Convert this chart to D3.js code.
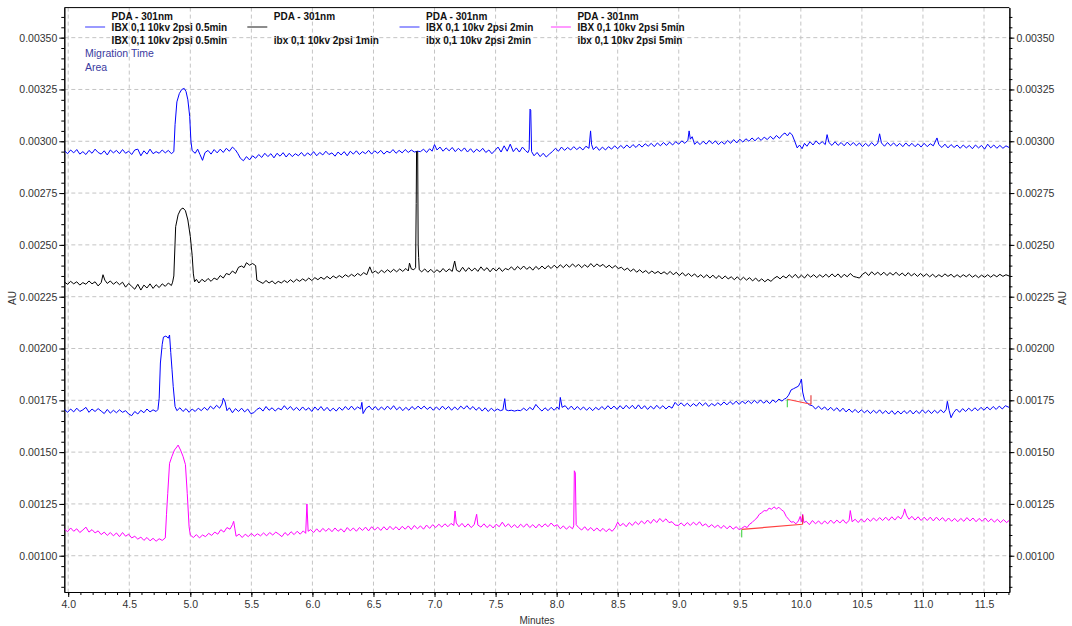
<!DOCTYPE html>
<html>
<head>
<meta charset="utf-8">
<script src="https://cdn.jsdelivr.net/npm/d3@7"></script>
<style>
body { margin: 0; background: #fff; }
svg { font-family: "Liberation Sans", Arial, sans-serif; }
.axis text { fill: #333; font-size: 10.5px; }
.axis path, .axis line { stroke: #000; }
</style>
</head>
<body>
<svg id="chart" width="1072" height="626"></svg>
<script>
// tick labels
var xTicks = [4.0, 4.5, 5.0, 5.5, 6.0, 6.5, 7.0, 7.5, 8.0, 8.5, 9.0, 9.5, 10.0, 10.5, 11.0, 11.5];
var yTicks = [0.00100, 0.00125, 0.00150, 0.00175, 0.00200, 0.00225, 0.00250, 0.00275, 0.00300, 0.00325, 0.00350];

var legendTitles = ["PDA - 301nm", "PDA - 301nm", "PDA - 301nm", "PDA - 301nm"];
var legendLine1 = ["IBX 0,1 10kv 2psi 0.5min", "", "IBX 0,1 10kv 2psi 2min", "IBX 0,1 10kv 2psi 5min"];
var legendLine2 = ["IBX 0,1 10kv 2psi 0.5min", "ibx 0,1 10kv 2psi 1min", "ibx 0,1 10kv 2psi 2min", "ibx 0,1 10kv 2psi 5min"];
var traceColors = ["#0000ff", "#000000", "#0000ff", "#ff00ff"];
var sampleColors = ["#7878ff", "#666666", "#7878ff", "#ff78ff"];

// [minutes, AU]
var trace05 = [[3.97,.002954],[3.995,.00294],[4.02,.002958],[4.045,.002944],[4.07,.00296],[4.095,.002938],[4.12,.00295],[4.145,.002936],[4.17,.002956],[4.195,.002942],[4.22,.002962],[4.245,.002946],[4.27,.002938],[4.295,.002954],[4.32,.002934],[4.345,.002958],[4.37,.002944],[4.395,.002956],[4.42,.00294],[4.445,.00296],[4.47,.002942],[4.495,.002952],[4.52,.002936],[4.545,.002958],[4.57,.002962],[4.595,.00293],[4.62,.002954],[4.645,.002938],[4.67,.002962],[4.695,.00294],[4.72,.00295],[4.745,.002942],[4.77,.002958],[4.795,.002944],[4.82,.002956],[4.845,.00294],[4.865,.00295],
  [4.875,.00308],[4.89,.00319],[4.91,.00323],[4.93,.00325],[4.95,.003255],[4.965,.00324],[4.98,.0032],[4.995,.00312],[5.005,.003],[5.015,.002955],
  [5.04,.002942],[5.06,.002962],[5.08,.002935],[5.10,.002908],[5.12,.002945],[5.145,.002956],[5.17,.002938],[5.195,.00296],[5.22,.002944],[5.245,.002962],[5.27,.002946],[5.295,.002966],[5.32,.002952],[5.345,.002972],[5.37,.002958],[5.39,.00294],[5.41,.002918],[5.435,.002906],[5.46,.002926],[5.485,.00291],[5.51,.00293],[5.535,.002918],[5.56,.002936],[5.585,.002922],[5.61,.002942],[5.635,.002926],[5.66,.00294],[5.685,.00292],[5.71,.002942],[5.735,.002928],
  [5.76,.002945],[5.785,.002924],[5.81,.002942],[5.835,.002926],[5.86,.00294],[5.885,.00293],[5.91,.002946],[5.935,.002928],[5.96,.002944],[5.985,.002932],[6.01,.00295],[6.035,.00293],[6.06,.002946],[6.085,.002934],[6.11,.002952],[6.135,.002936],[6.16,.002944],[6.185,.002928],[6.21,.002948],[6.235,.002934],[6.26,.00295],[6.285,.00293],[6.31,.002952],[6.335,.002938],[6.36,.002954],[6.385,.002936],[6.41,.00295],[6.435,.00294],[6.46,.002956],[6.485,.002938],[6.51,.002954],[6.535,.002942],[6.56,.002956],[6.585,.002938],[6.61,.002952],[6.635,.002944],[6.66,.00296],[6.685,.002942],[6.71,.002956],[6.735,.002944],[6.76,.00296],[6.785,.002946],[6.81,.002958],[6.835,.002948],[6.86,.002952],[6.885,.00295],[6.91,.002962],[6.935,.002946],[6.96,.002964],[6.98,.002952],
  [7.00,.002984],[7.02,.002958],[7.045,.002972],[7.07,.002952],[7.095,.002968],[7.12,.002954],[7.145,.00297],[7.17,.00295],[7.195,.002966],[7.22,.002952],[7.245,.002968],[7.27,.002948],[7.295,.002964],[7.32,.002946],[7.345,.002962],[7.37,.00295],[7.395,.002966],[7.42,.002946],[7.445,.002958],[7.47,.00294],[7.495,.002956],[7.52,.002972],[7.545,.002948],[7.57,.002978],[7.595,.002952],[7.62,.002986],[7.645,.00295],[7.67,.002968],[7.695,.002948],[7.72,.002972],[7.745,.002955],[7.765,.002945],
  [7.775,.00296],[7.782,.003155],[7.788,.00315],[7.795,.00295],
  [7.815,.00293],[7.84,.002946],[7.865,.002926],[7.89,.002942],[7.915,.002924],[7.94,.002938],[7.965,.00295],[7.99,.002966],[8.015,.002952],[8.04,.002972],[8.065,.002956],[8.09,.00297],[8.115,.002958],[8.14,.002974],[8.165,.00296],[8.19,.002972],[8.215,.002958],[8.24,.002976],[8.265,.002966],
  [8.278,.00305],[8.286,.002985],
  [8.30,.00296],[8.325,.002974],[8.35,.002956],[8.375,.002972],[8.40,.002958],[8.425,.002974],[8.45,.002962],[8.475,.002978],[8.50,.002964],[8.525,.00298],[8.55,.002966],[8.575,.002982],[8.60,.002968],[8.625,.002984],[8.65,.00297],[8.675,.002986],[8.70,.002972],[8.725,.002988],[8.75,.002976],[8.775,.00299],[8.80,.002974],[8.825,.002992],[8.85,.002978],[8.875,.002994],[8.90,.00298],[8.925,.002996],[8.95,.002982],[8.975,.002998],[9.00,.002986],[9.025,.003002],[9.05,.00299],
  [9.075,.003005],[9.085,.00305],[9.095,.00301],[9.11,.003022],[9.13,.002985],
  [9.15,.002998],[9.175,.002984],[9.20,.003],[9.225,.002986],[9.25,.003004],[9.275,.002988],[9.30,.003002],[9.325,.002984],[9.35,.002998],[9.375,.002986],[9.40,.003004],[9.425,.00299],[9.45,.003008],[9.475,.002992],[9.50,.00301],[9.525,.002996],[9.55,.003012],[9.575,.003],[9.60,.003016],[9.625,.003002],[9.65,.003018],[9.675,.003004],[9.70,.00302],[9.725,.003008],[9.75,.003024],[9.775,.00301],[9.80,.003028],[9.825,.003014],[9.85,.003032],[9.87,.00304],[9.89,.003026],[9.91,.003042],[9.93,.00303],[9.95,.003],[9.97,.002968],[9.99,.002982],[10.01,.002964],[10.03,.00299],[10.05,.002976],[10.075,.002998],[10.10,.002982],[10.125,.003002],[10.15,.002986],[10.175,.002998],[10.20,.002984],[10.215,.003032],[10.23,.002994],[10.255,.00298],[10.28,.002998],[10.305,.00298],[10.33,.002994],[10.355,.002978],[10.38,.002996],[10.405,.00298],[10.43,.002994],[10.455,.002978],[10.48,.002992],[10.505,.002974],[10.53,.00299],[10.555,.002976],[10.58,.002994],[10.605,.002978],[10.63,.00299],[10.645,.003036],[10.66,.002992],[10.685,.002976],[10.71,.002994],[10.735,.002978],[10.76,.002992],[10.785,.002976],[10.81,.00299],[10.835,.002974],[10.86,.002992],[10.885,.002976],[10.91,.00299],[10.935,.002974],[10.96,.002988],[10.985,.002972],[11.01,.00299],[11.035,.002974],[11.06,.002988],[11.085,.002978],[11.115,.003016],[11.13,.002984],[11.155,.00297],[11.18,.002986],[11.205,.002968],[11.23,.002984],[11.255,.00297],[11.28,.002982],[11.305,.002966],[11.33,.002982],[11.355,.002968],[11.38,.00298],[11.405,.002964],[11.43,.002982],[11.455,.002968],[11.48,.00298],[11.505,.002962],[11.53,.002986],[11.555,.002968],[11.58,.002982],[11.605,.002966],[11.63,.00298],[11.655,.002966],[11.68,.002978],[11.705,.00297]];

var trace1 = [[3.97,.00232],[3.995,.00231],[4.02,.002324],[4.045,.002312],[4.07,.002322],[4.095,.002306],[4.12,.002318],[4.145,.00231],[4.17,.002326],[4.195,.002312],[4.22,.002322],[4.245,.002302],[4.27,.002318],[4.285,.002356],[4.30,.00233],[4.32,.002314],[4.345,.002326],[4.37,.00231],[4.395,.002322],[4.42,.002308],[4.445,.00232],[4.47,.002296],[4.495,.002314],[4.52,.0023],[4.545,.002286],[4.57,.00231],[4.595,.002282],[4.62,.002306],[4.645,.002292],[4.67,.002312],[4.695,.00229],[4.72,.002308],[4.745,.002294],[4.77,.002312],[4.795,.0023],[4.82,.002316],[4.845,.002304],[4.855,.00232],
  [4.865,.00235],[4.88,.002588],[4.90,.002645],[4.92,.00267],[4.94,.002678],[4.96,.002665],[4.98,.00262],[5.00,.00254],[5.015,.00245],[5.025,.00236],[5.035,.002322],
  [5.05,.002334],[5.07,.002316],[5.095,.002334],[5.12,.002322],[5.145,.002338],[5.17,.002324],[5.195,.00234],[5.22,.002332],[5.245,.002352],[5.27,.00234],[5.295,.002362],[5.32,.002356],[5.345,.002374],[5.37,.002362],[5.395,.002392],[5.42,.002398],[5.44,.00239],[5.46,.002414],[5.485,.002402],[5.51,.00241],[5.535,.0024],[5.545,.00233],[5.57,.002322],[5.595,.002314],[5.62,.002328],[5.645,.002316],[5.67,.002326],[5.695,.002312],[5.72,.002324],
  [5.745,.002316],[5.77,.002328],[5.795,.002318],[5.82,.002332],[5.845,.00232],[5.87,.002334],[5.895,.002324],[5.92,.002336],[5.945,.002326],[5.97,.00234],[5.995,.002328],[6.02,.002342],[6.045,.002332],[6.07,.002344],[6.095,.002334],[6.12,.002348],[6.145,.002336],[6.17,.00235],[6.195,.00234],[6.22,.002352],[6.245,.002342],[6.27,.002356],[6.295,.002346],[6.32,.002358],[6.345,.002348],[6.37,.002362],[6.395,.002352],[6.42,.002366],[6.445,.002356],[6.47,.002394],[6.49,.002364],[6.515,.002374],[6.54,.002362],[6.565,.002378],[6.59,.002366],[6.615,.00238],[6.64,.002368],[6.665,.002382],[6.69,.00237],[6.715,.002384],[6.74,.002372],[6.765,.002386],[6.785,.002374],[6.795,.002412],[6.81,.002384],[6.83,.00238],
  [6.845,.00239],[6.85,.0027],[6.853,.00295],[6.862,.00295],[6.866,.0025],[6.87,.00244],[6.875,.00238],
  [6.895,.00237],[6.92,.002384],[6.945,.002368],[6.97,.002382],[6.995,.002366],[7.02,.00238],[7.045,.002368],[7.07,.002386],[7.095,.00237],[7.12,.002384],[7.145,.002372],[7.165,.002422],[7.18,.002378],[7.205,.00237],[7.23,.002392],[7.255,.002372],[7.28,.00239],[7.305,.002374],[7.33,.002388],[7.355,.002372],[7.38,.002394],[7.405,.002376],[7.43,.00239],[7.455,.00237],[7.48,.002388],[7.505,.002374],[7.53,.00239],[7.555,.002372],[7.58,.002386],[7.605,.00238],[7.63,.002394],[7.655,.002378],[7.68,.002396],[7.705,.002382],[7.73,.002398],[7.755,.002382],[7.78,.002394],[7.805,.002378],[7.83,.002396],[7.855,.002382],[7.88,.002398],[7.905,.002384],[7.93,.0024],[7.955,.002386],[7.98,.002402],[8.005,.002388],[8.03,.002404],[8.055,.00239],[8.08,.002406],[8.105,.002392],[8.13,.002408],[8.155,.002394],[8.18,.002406],[8.205,.00239],[8.23,.002404],[8.255,.002392],[8.28,.00241],[8.305,.002394],[8.33,.002408],[8.355,.002396],[8.38,.002406],[8.405,.00239],[8.43,.002402],[8.455,.002388],[8.48,.0024],[8.505,.002386],[8.53,.002392],[8.555,.002378],[8.58,.002388],[8.605,.002372],[8.63,.002384],[8.655,.002368],[8.68,.00238],[8.705,.002366],[8.73,.002376],[8.755,.002362],[8.78,.002374],[8.805,.002362],[8.83,.002372],[8.855,.00236],[8.88,.00237],[8.905,.002358],[8.93,.002372],[8.955,.002356],[8.98,.002368],[9.005,.002352],[9.03,.002366],[9.055,.00235],[9.08,.002362],[9.105,.002348],[9.13,.00236],[9.155,.002344],[9.18,.002356],[9.205,.002342],[9.23,.002356],[9.255,.00234],[9.28,.002354],[9.305,.002338],[9.33,.002352],[9.355,.002336],[9.38,.00235],[9.405,.002336],[9.43,.002346],[9.455,.002332],[9.48,.002346],[9.505,.00233],[9.53,.002344],[9.555,.00233],[9.58,.002342],[9.605,.002326],[9.63,.00234],[9.655,.002324],[9.68,.002336],[9.705,.002322],[9.73,.002334],[9.755,.002324],[9.78,.002338],[9.805,.002348],[9.83,.002336],[9.855,.00235],[9.88,.00234],[9.905,.002356],[9.93,.002342],[9.955,.002358],[9.98,.00234],[10.005,.002354],[10.03,.00234],[10.055,.002358],[10.08,.002344],[10.105,.002356],[10.13,.002342],[10.155,.002356],[10.18,.002344],[10.205,.002358],[10.23,.002344],[10.255,.00236],[10.28,.002346],[10.305,.00236],[10.33,.002342],[10.355,.002358],[10.38,.002346],[10.405,.002362],[10.43,.002348],[10.455,.002344],[10.48,.00234],[10.505,.002358],[10.53,.002368],[10.555,.002352],[10.58,.00237],[10.605,.002356],[10.63,.002368],[10.655,.002354],[10.68,.002368],[10.705,.002352],[10.73,.002366],[10.755,.002354],[10.78,.002368],[10.805,.002352],[10.83,.002364],[10.855,.00235],[10.88,.002366],[10.905,.00235],[10.93,.002362],[10.955,.002348],[10.98,.002362],[11.005,.002348],[11.03,.00236],[11.055,.002346],[11.08,.002358],[11.105,.002344],[11.13,.002356],[11.155,.002346],[11.18,.00236],[11.205,.002348],[11.23,.002358],[11.255,.002344],[11.28,.002356],[11.305,.002344],[11.33,.002356],[11.355,.002346],[11.38,.002358],[11.405,.002344],[11.43,.002354],[11.455,.002342],[11.48,.002354],[11.505,.002344],[11.53,.002356],[11.555,.002344],[11.58,.002356],[11.605,.002346],[11.63,.002358],[11.655,.002348],[11.68,.002356],[11.705,.00235]];

var trace2 = [[3.97,.001706],[3.995,.001692],[4.02,.001708],[4.045,.001694],[4.07,.001712],[4.095,.001696],[4.12,.001704],[4.145,.001716],[4.17,.001692],[4.195,.001708],[4.22,.001696],[4.245,.00171],[4.27,.001698],[4.295,.001686],[4.32,.001706],[4.345,.001688],[4.37,.001702],[4.395,.00169],[4.42,.001704],[4.445,.001692],[4.47,.0017],[4.495,.001684],[4.52,.001676],[4.545,.001696],[4.57,.001684],[4.595,.001702],[4.62,.00169],[4.645,.001708],[4.67,.001694],[4.695,.001704],[4.72,.001696],[4.735,.001706],
  [4.745,.00176],[4.755,.00193],[4.77,.00202],[4.78,.002055],[4.80,.00206],[4.82,.00205],[4.83,.002065],[4.84,.00198],[4.85,.0019],[4.86,.001816],[4.875,.00172],
  [4.89,.0017],[4.915,.001714],[4.94,.001696],[4.965,.00171],[4.99,.001692],[5.015,.001708],[5.04,.001696],[5.065,.001712],[5.09,.0017],[5.115,.001716],[5.14,.001702],[5.165,.001722],[5.19,.001708],[5.215,.001726],[5.24,.001712],[5.26,.001732],[5.27,.00176],[5.285,.001742],[5.30,.0017],[5.32,.001714],[5.345,.00169],[5.37,.00171],[5.395,.001696],[5.42,.001712],[5.445,.001694],[5.47,.001708],[5.495,.001686],[5.52,.00169],[5.545,.001706],[5.57,.001714],[5.595,.001698],[5.62,.00172],[5.645,.001702],[5.67,.001714],[5.695,.001698],[5.72,.001712],
  [5.745,.001704],[5.77,.001724],[5.795,.001706],[5.82,.00172],[5.845,.001702],[5.87,.001716],[5.895,.0017],[5.92,.001718],[5.945,.001702],[5.97,.001714],[5.995,.001696],[6.02,.001718],[6.045,.001702],[6.07,.00172],[6.095,.0017],[6.12,.001716],[6.145,.001698],[6.17,.001712],[6.195,.001698],[6.22,.001716],[6.245,.001702],[6.27,.00172],[6.295,.001704],[6.32,.001722],[6.345,.001704],[6.37,.001718],[6.395,.001708],[6.405,.00174],[6.415,.001686],[6.44,.001712],[6.465,.001722],[6.49,.001704],[6.515,.00172],[6.54,.001702],[6.565,.001718],[6.59,.001704],[6.615,.001722],[6.64,.001706],[6.665,.001724],[6.69,.001704],[6.715,.001718],[6.74,.0017],[6.765,.001716],[6.79,.001702],[6.815,.00172],[6.84,.001706],[6.865,.001722],[6.89,.001708],[6.915,.001722],[6.94,.001706],[6.965,.001718],[6.99,.001702],[7.015,.001718],[7.04,.001704],[7.065,.001722],[7.09,.001706],[7.115,.00172],[7.14,.001702],[7.165,.001718],[7.19,.001704],[7.215,.001722],[7.24,.001708],[7.265,.001724],[7.29,.001706],[7.315,.00172],[7.34,.001702],[7.365,.001716],[7.39,.001698],[7.415,.001714],[7.44,.001696],[7.465,.001712],[7.49,.001698],[7.515,.001708],[7.54,.0017],[7.56,.001704],[7.575,.001758],[7.585,.001704],[7.605,.0017],[7.63,.001702],[7.655,.001698],[7.68,.001702],[7.705,.0017],[7.73,.001712],[7.755,.0017],[7.78,.001716],[7.805,.001704],[7.83,.00173],[7.855,.001712],[7.88,.001698],[7.905,.001714],[7.93,.0017],[7.955,.001716],[7.98,.001702],[8.005,.001718],[8.02,.001706],[8.03,.001764],[8.045,.001716],[8.07,.001724],[8.095,.001706],[8.12,.001722],[8.145,.001704],[8.17,.00172],[8.195,.001704],[8.22,.001718],[8.245,.001702],[8.27,.001716],[8.295,.0017],[8.32,.001716],[8.345,.001704],[8.37,.00172],[8.395,.001706],[8.42,.001724],[8.445,.001708],[8.47,.001722],[8.495,.001706],[8.52,.001724],[8.545,.001708],[8.57,.001726],[8.595,.00171],[8.62,.001726],[8.645,.001708],[8.67,.001728],[8.695,.001708],[8.72,.001724],[8.745,.001706],[8.77,.001722],[8.795,.001708],[8.82,.001726],[8.845,.00171],[8.87,.001724],[8.895,.001708],[8.92,.001722],[8.945,.001712],[8.97,.00174],[8.995,.001724],[9.02,.001738],[9.045,.001722],[9.07,.001736],[9.095,.00172],[9.12,.001734],[9.145,.001722],[9.17,.00174],[9.195,.001724],[9.22,.001738],[9.245,.00172],[9.27,.001734],[9.295,.001724],[9.32,.001738],[9.345,.001726],[9.37,.001742],[9.395,.001728],[9.42,.001744],[9.445,.00173],[9.47,.001746],[9.495,.00173],[9.52,.001746],[9.545,.001734],[9.57,.001748],[9.595,.001734],[9.62,.00175],[9.645,.001736],[9.67,.001752],[9.695,.001736],[9.72,.001748],[9.745,.001734],[9.77,.001752],[9.795,.00174],[9.82,.001756],[9.845,.001746],[9.865,.001756],[9.88,.00176],
  [9.90,.001775],[9.92,.0018],[9.94,.001806],[9.96,.001812],[9.98,.001818],[9.995,.001835],[10.005,.001852],[10.015,.00179],[10.03,.001752],[10.05,.001738],[10.07,.001728],
  [10.095,.001724],[10.12,.001708],[10.145,.001722],[10.17,.001706],[10.195,.001718],[10.22,.001702],[10.245,.001716],[10.27,.0017],[10.295,.001714],[10.32,.001696],[10.345,.001712],[10.37,.001694],[10.395,.001708],[10.42,.001692],[10.445,.001706],[10.47,.00169],[10.495,.001704],[10.52,.00169],[10.545,.001702],[10.57,.001686],[10.595,.001702],[10.62,.001688],[10.645,.001704],[10.67,.001686],[10.695,.0017],[10.72,.001684],[10.745,.0017],[10.77,.001682],[10.795,.001698],[10.82,.001684],[10.845,.0017],[10.87,.001686],[10.895,.001702],[10.92,.001684],[10.945,.0017],[10.97,.001686],[10.995,.001704],[11.02,.001688],[11.045,.001702],[11.07,.001686],[11.095,.001702],[11.12,.001688],[11.145,.001704],[11.17,.00169],[11.19,.001706],[11.20,.001745],[11.215,.0017],[11.23,.001666],[11.25,.00169],[11.275,.001708],[11.30,.001692],[11.325,.00171],[11.35,.001696],[11.375,.001712],[11.40,.001698],[11.425,.001714],[11.45,.0017],[11.475,.001716],[11.50,.001702],[11.525,.001718],[11.55,.001704],[11.575,.00172],[11.60,.001706],[11.625,.001722],[11.65,.001708],[11.675,.001724],[11.705,.001716]];

var trace5 = [[3.97,.001128],[3.995,.001116],[4.02,.001134],[4.045,.001118],[4.07,.00113],[4.095,.001112],[4.12,.001124],[4.145,.001138],[4.17,.001114],[4.195,.001126],[4.22,.00111],[4.245,.00112],[4.27,.001102],[4.295,.001114],[4.32,.001098],[4.345,.001112],[4.37,.001096],[4.395,.00111],[4.42,.001092],[4.445,.001112],[4.47,.001094],[4.495,.001104],[4.52,.001086],[4.545,.001094],[4.57,.00108],[4.595,.00109],[4.62,.001074],[4.645,.001088],[4.67,.001072],[4.695,.001084],[4.72,.00107],[4.745,.001082],[4.77,.001074],[4.795,.001086],
  [4.805,.0012],[4.815,.0013],[4.83,.001446],[4.85,.00148],[4.87,.00151],[4.89,.001525],[4.90,.001534],[4.92,.00151],[4.94,.00148],[4.96,.00144],[4.975,.0013],[4.99,.00114],[5.00,.0011],
  [5.025,.001088],[5.05,.001102],[5.075,.001086],[5.10,.0011],[5.125,.001092],[5.15,.001108],[5.175,.001098],[5.20,.001114],[5.225,.001104],[5.25,.001126],[5.275,.001114],[5.30,.001136],[5.325,.001128],[5.345,.00115],[5.355,.001166],[5.365,.00113],[5.375,.001094],[5.40,.001104],[5.425,.001088],[5.45,.001104],[5.475,.001092],[5.50,.001108],[5.525,.001094],[5.55,.001106],[5.575,.001096],[5.60,.00111],[5.625,.001096],[5.65,.001112],[5.675,.0011],[5.70,.001114],
  [5.725,.001104],[5.75,.001092],[5.775,.001112],[5.80,.001098],[5.825,.001116],[5.85,.001102],[5.875,.001118],[5.90,.001104],[5.925,.00112],[5.945,.001108],[5.955,.00125],[5.965,.001118],[5.985,.001126],[6.01,.001112],[6.035,.00113],[6.06,.001114],[6.085,.001132],[6.11,.001118],[6.135,.001132],[6.16,.001116],[6.185,.001134],[6.21,.001118],[6.235,.00113],[6.26,.001114],[6.285,.001136],[6.31,.00112],[6.335,.001134],[6.36,.001118],[6.385,.001136],[6.41,.001122],[6.435,.001138],[6.46,.00112],[6.485,.00114],[6.51,.001124],[6.535,.001138],[6.56,.001122],[6.585,.00114],[6.61,.001124],[6.635,.001142],[6.66,.001126],[6.685,.00114],[6.71,.001124],[6.735,.001142],[6.76,.001128],[6.785,.001144],[6.81,.001126],[6.835,.001146],[6.86,.00113],[6.885,.001144],[6.91,.001128],[6.935,.001148],[6.96,.001132],[6.985,.00115],[7.01,.001136],[7.035,.001152],[7.06,.001138],[7.085,.001154],[7.11,.00114],[7.135,.001156],[7.158,.001146],[7.168,.001216],[7.178,.001158],[7.20,.00114],[7.225,.001156],[7.25,.001138],[7.275,.001154],[7.30,.001136],[7.325,.00115],[7.345,.0012],[7.355,.001148],[7.38,.001138],[7.405,.001154],[7.43,.001136],[7.455,.00115],[7.48,.001134],[7.505,.001152],[7.53,.00114],[7.555,.001162],[7.58,.00114],[7.605,.001154],[7.63,.001136],[7.655,.00115],[7.68,.001134],[7.705,.001152],[7.73,.001138],[7.755,.001154],[7.78,.001136],[7.805,.00115],[7.83,.001134],[7.855,.001152],[7.88,.001138],[7.905,.001154],[7.93,.00114],[7.955,.001158],[7.98,.001142],[8.005,.00115],[8.03,.00113],[8.055,.001144],[8.08,.001128],[8.105,.001142],[8.13,.00113],[8.14,.001144],[8.145,.00141],[8.153,.0014],[8.16,.00115],[8.18,.001136],[8.205,.001124],[8.23,.00114],[8.255,.001122],[8.28,.001136],[8.305,.00112],[8.33,.001134],[8.355,.001118],[8.38,.001132],[8.405,.001116],[8.43,.00113],[8.455,.001118],[8.48,.001136],[8.50,.001162],[8.52,.001144],[8.545,.001156],[8.57,.00114],[8.595,.00116],[8.62,.001146],[8.645,.001164],[8.67,.00115],[8.695,.001168],[8.72,.001154],[8.745,.001172],[8.77,.001156],[8.795,.001176],[8.82,.00116],[8.845,.00118],[8.87,.001164],[8.895,.001178],[8.92,.00116],[8.945,.001164],[8.97,.001148],[8.995,.001146],[9.02,.001158],[9.045,.001144],[9.07,.00116],[9.095,.001146],[9.12,.001162],[9.145,.001148],[9.17,.001164],[9.195,.001144],[9.22,.001154],[9.245,.001138],[9.27,.00115],[9.295,.001136],[9.32,.001148],[9.345,.001132],[9.37,.001146],[9.395,.00113],[9.42,.001144],[9.445,.001128],[9.47,.00114],[9.495,.001126],[9.515,.001132],
  [9.54,.001142],[9.56,.001136],[9.58,.001152],[9.60,.00116],[9.62,.001172],[9.64,.001182],[9.66,.0012],[9.68,.001208],[9.70,.001218],[9.72,.001216],[9.74,.00123],[9.76,.001224],[9.78,.001236],[9.80,.001226],[9.82,.001234],[9.84,.001222],[9.86,.001214],[9.88,.00119],[9.90,.001176],[9.92,.001162],[9.94,.001164],[9.96,.001154],[9.98,.001168],[9.995,.00119],[10.005,.001164],[10.015,.0012],[10.025,.00116],
  [10.045,.001166],[10.07,.00115],[10.095,.00117],[10.12,.001154],[10.145,.001168],[10.17,.001152],[10.195,.001168],[10.22,.001154],[10.245,.001172],[10.27,.001156],[10.295,.001172],[10.32,.001158],[10.345,.001174],[10.37,.001156],[10.395,.00117],[10.405,.001218],[10.42,.001164],[10.445,.001176],[10.47,.00116],[10.495,.001178],[10.52,.001162],[10.545,.00118],[10.57,.001166],[10.595,.001182],[10.62,.001168],[10.645,.001184],[10.67,.00117],[10.695,.001186],[10.72,.00117],[10.745,.001188],[10.77,.001172],[10.795,.00119],[10.82,.001178],[10.84,.0012],[10.85,.001226],[10.865,.001196],[10.885,.001176],[10.91,.00119],[10.935,.001172],[10.96,.001188],[10.985,.00117],[11.01,.001186],[11.035,.00117],[11.06,.001186],[11.085,.001168],[11.11,.001186],[11.135,.00117],[11.16,.001184],[11.185,.001166],[11.21,.001182],[11.235,.001166],[11.26,.00118],[11.285,.001164],[11.31,.00118],[11.335,.001166],[11.36,.001184],[11.385,.001168],[11.41,.001182],[11.435,.001164],[11.46,.00118],[11.485,.001166],[11.51,.001182],[11.535,.001164],[11.56,.001178],[11.585,.001162],[11.61,.001176],[11.635,.00116],[11.66,.001174],[11.685,.00116],[11.705,.00117]];

// integrated peaks: baseline start / end [minutes, AU]
var peakStarts = [[9.889, .001755], [9.516, .001127]];
var peakEnds = [[10.083, .001731], [10.015, .001152]];

var traces = [trace05, trace1, trace2, trace5];

var svg = d3.select("#chart"),
    margin = {top: 7.6, left: 64.3},
    width = 1009.4 - margin.left,
    height = 592 - margin.top,
    g = svg.append("g").attr("transform", "translate(" + margin.left + "," + margin.top + ")");

var x = d3.scaleLinear().domain([3.968, 11.708]).range([0, width]);
var y = d3.scaleLinear().domain([0.000825, 0.003645]).range([height, 0]);

// grid
g.append("g").selectAll("line").data(xTicks).enter().append("line")
    .attr("x1", d => x(d)).attr("x2", d => x(d))
    .attr("y1", 0).attr("y2", height)
    .attr("stroke", "#c4c4c4").attr("stroke-dasharray", "4,3");
g.append("g").selectAll("line").data(yTicks).enter().append("line")
    .attr("y1", d => y(d)).attr("y2", d => y(d))
    .attr("x1", 0).attr("x2", width)
    .attr("stroke", "#c4c4c4").attr("stroke-dasharray", "4,3");

// minor ticks
var xMinor = d3.range(3.9, 11.8, 0.1).filter(d => d >= 3.968 && d <= 11.708);
var yMinor = d3.range(0.00085, 0.00365, 0.00005);

g.append("g").attr("class", "axis")
    .attr("transform", "translate(0," + height + ")")
    .call(d3.axisBottom(x).tickValues(xMinor).tickSize(3).tickFormat("").tickSizeOuter(0));
g.append("g").attr("class", "axis")
    .attr("transform", "translate(0," + height + ")")
    .call(d3.axisBottom(x).tickValues(xTicks).tickSize(5).tickPadding(4).tickFormat(d3.format(".1f")).tickSizeOuter(0));

g.append("g").attr("class", "axis")
    .call(d3.axisLeft(y).tickValues(yMinor).tickSize(3).tickFormat("").tickSizeOuter(0));
g.append("g").attr("class", "axis")
    .call(d3.axisLeft(y).tickValues(yTicks).tickSize(5).tickPadding(2).tickFormat(d3.format(".5f")).tickSizeOuter(0));

g.append("g").attr("class", "axis")
    .attr("transform", "translate(" + width + ",0)")
    .call(d3.axisRight(y).tickValues(yMinor).tickSize(3).tickFormat("").tickSizeOuter(0));
g.append("g").attr("class", "axis")
    .attr("transform", "translate(" + width + ",0)")
    .call(d3.axisRight(y).tickValues(yTicks).tickSize(5).tickPadding(2).tickFormat(d3.format(".5f")).tickSizeOuter(0));

// top border
g.append("line").attr("x1", 0).attr("x2", width).attr("y1", 0).attr("y2", 0).attr("stroke", "#000");

// traces
svg.append("clipPath").attr("id", "plot-clip").append("rect")
    .attr("width", width).attr("height", height);

var line = d3.line()
    .x(d => x(d[0]))
    .y(d => y(d[1]));

g.append("g").attr("clip-path", "url(#plot-clip)")
    .selectAll("path").data(traces).enter().append("path")
    .attr("d", line)
    .attr("fill", "none")
    .attr("stroke", (d, i) => traceColors[i])
    .attr("stroke-width", 1);

// integration baselines and markers
var ev = g.append("g");
ev.selectAll(".base").data(peakStarts).enter().append("line")
    .attr("x1", d => x(d[0])).attr("y1", d => y(d[1]))
    .attr("x2", (d, i) => x(peakEnds[i][0])).attr("y2", (d, i) => y(peakEnds[i][1]))
    .attr("stroke", "#ff4040").attr("stroke-width", 1.2);
ev.selectAll(".start").data(peakStarts).enter().append("line")
    .attr("x1", d => x(d[0])).attr("x2", d => x(d[0]))
    .attr("y1", d => y(d[1])).attr("y2", d => y(d[1]) + 8)
    .attr("stroke", "#30d030");
ev.selectAll(".end").data(peakEnds).enter().append("line")
    .attr("x1", d => x(d[0])).attr("x2", d => x(d[0]))
    .attr("y1", d => y(d[1])).attr("y2", d => y(d[1]) - 9)
    .attr("stroke", "#e02020");

// axis titles
svg.append("text").attr("transform", "translate(16,298) rotate(-90)")
    .attr("text-anchor", "middle").attr("font-size", 10).attr("fill", "#333").text("AU");
svg.append("text").attr("transform", "translate(1066,298) rotate(-90)")
    .attr("text-anchor", "middle").attr("font-size", 10).attr("fill", "#333").text("AU");
svg.append("text").attr("x", 537).attr("y", 624)
    .attr("text-anchor", "middle").attr("font-size", 10).attr("fill", "#333").text("Minutes");

// legend
var legendX = [111.6, 273.8, 426, 577.4];
var legend = svg.append("g")
    .attr("font-size", 10)
    .attr("font-weight", "bold")
    .attr("fill", "#111")
    .selectAll("g")
    .data(legendTitles)
    .enter().append("g")
    .attr("transform", (d, i) => "translate(" + legendX[i] + ",0)");

legend.append("line")
    .attr("x1", -26.5).attr("x2", -6.5)
    .attr("y1", 27).attr("y2", 27)
    .attr("stroke", (d, i) => sampleColors[i])
    .attr("stroke-width", 1.5);
legend.append("text").attr("y", 19.5).text(d => d);
legend.append("text").attr("y", 30.5).text((d, i) => legendLine1[i]);
legend.append("text").attr("y", 43.5).text((d, i) => legendLine2[i]);

svg.append("text").attr("x", 85).attr("y", 57).attr("font-size", 10.5)
    .attr("fill", "#3a3aa0").text("Migration Time");
svg.append("text").attr("x", 85).attr("y", 70.5).attr("font-size", 10.5)
    .attr("fill", "#3a3aa0").text("Area");
</script>
</body>
</html>
